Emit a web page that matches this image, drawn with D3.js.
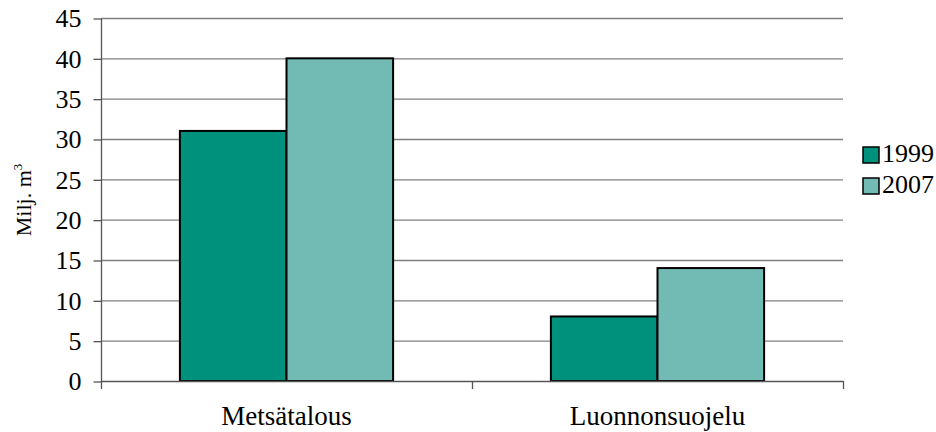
<!DOCTYPE html>
<html><head><meta charset="utf-8">
<script src="https://cdn.jsdelivr.net/npm/d3@7"></script>
<style>body{margin:0;background:#fff}svg{display:block}svg text{font-family:"Liberation Serif","Times New Roman",serif !important;fill:#000}</style>
</head><body>
<svg id="c" width="936" height="432" font-family="Liberation Serif"></svg>
<script>
const categories = ["Metsätalous", "Luonnonsuojelu"];
const seriesNames = ["1999", "2007"];
const values1999 = [31, 8];
const values2007 = [40, 14];
const yTicks = [0,5,10,15,20,25,30,35,40,45];
const colors = ["#00917D", "#72BAB4"];
const FONT = "Liberation Serif";
const FS = 26;

const svg = d3.select("#c");
const L = 101, R = 843, T = 18, B = 381;
const x = d3.scaleBand().domain(categories).range([L, R]).paddingInner(0).paddingOuter(0);
const y = d3.scaleLinear().domain([0,45]).range([B, T]);
const inner = d3.scaleBand().domain(seriesNames).range([0, x.bandwidth()]).paddingInner(0).paddingOuter(0.74);

// gridlines
svg.append("g").selectAll("line").data(yTicks.filter(d=>d>0)).join("line")
  .attr("x1", L).attr("x2", R).attr("y1", d=>y(d)+0.5).attr("y2", d=>y(d)+0.5)
  .attr("stroke", "#808080").attr("stroke-width", 1.3);

// y axis
const yAxis = d3.axisLeft(y).tickValues(yTicks).tickSize(8).tickPadding(12).tickFormat(d3.format("d"));
const gy = svg.append("g").attr("transform", `translate(${L+0.5},0.5)`).call(yAxis)
  .attr("font-family", FONT).attr("font-size", FS);
gy.selectAll("path,line").attr("stroke", "#555").attr("stroke-width", 1.3);
gy.select(".domain").attr("d", `M0,${T}V${B}`);
gy.selectAll("text").attr("fill","#000").attr("font-size", FS).style("font-family", FONT);

// bars
const data = categories.map((c,i)=>({c, vals:[{s:"1999",v:values1999[i]},{s:"2007",v:values2007[i]}]}));
const groups = svg.append("g").selectAll("g").data(data).join("g")
  .attr("transform", d=>`translate(${x(d.c)},0)`);
groups.selectAll("rect").data(d=>d.vals).join("rect")
  .attr("x", d=>inner(d.s)).attr("width", inner.bandwidth())
  .attr("y", d=>y(d.v)).attr("height", d=>B - y(d.v))
  .attr("fill", (d,i)=>colors[i]).attr("stroke", "#000").attr("stroke-width", 2);

// x axis
const xAxis = d3.axisBottom(x).tickSize(0).tickPadding(24);
const gx = svg.append("g").attr("transform", `translate(0,${B+0.5})`).call(xAxis)
  .attr("font-family", FONT).attr("font-size", 27);
gx.select(".domain").attr("stroke", "#555").attr("stroke-width", 1.3).attr("d", `M${L},0H${R}`);
gx.selectAll("text").attr("fill","#000").attr("font-size", 27).style("font-family", FONT);
svg.append("g").selectAll("line").data([L, x(categories[1]), R]).join("line")
  .attr("x1", d=>d+0.5).attr("x2", d=>d+0.5).attr("y1", B).attr("y2", B+8)
  .attr("stroke", "#555").attr("stroke-width", 1.3);

// y label
const yl = svg.append("text").attr("transform", "translate(31,200) rotate(-90)")
  .attr("text-anchor", "middle").attr("font-size", 22).attr("font-family", FONT);
yl.append("tspan").text("Milj. m");
yl.append("tspan").attr("font-size", 13).attr("dy", -9).text("3");

// legend
const lg = svg.append("g").attr("transform", "translate(863,147)").attr("font-family", FONT);
seriesNames.forEach((s,i)=>{
  const g = lg.append("g").attr("transform", `translate(0,${i*31})`);
  g.append("rect").attr("x",0).attr("y",0).attr("width",16).attr("height",16)
    .attr("fill", colors[i]).attr("stroke","#000").attr("stroke-width",1.5);
  g.append("text").attr("x",19).attr("y",15).attr("font-size",FS).text(s);
});
</script>
</body></html>
